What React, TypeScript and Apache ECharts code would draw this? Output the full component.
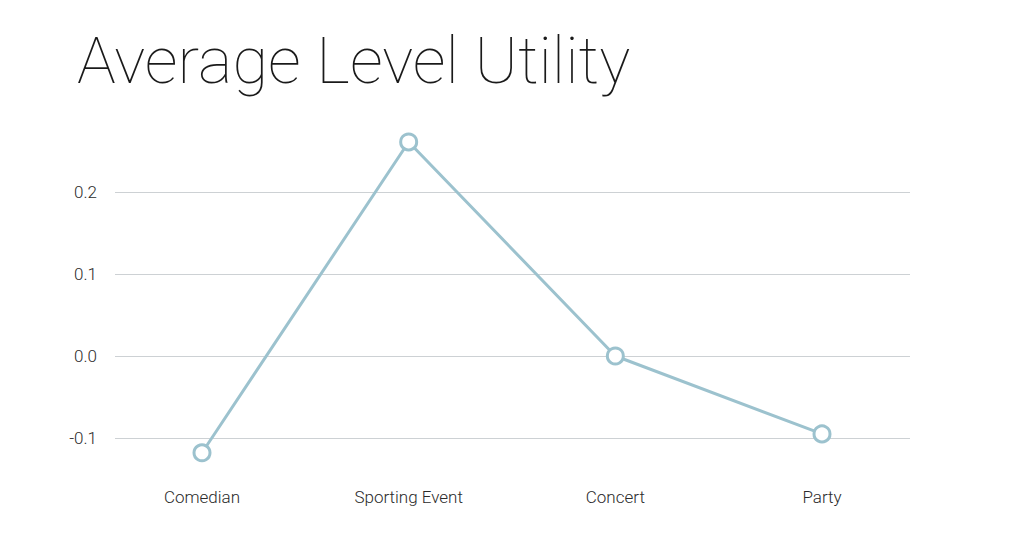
import React, { useEffect, useRef } from "react";
import * as echarts from "echarts";

const categories = ["Comedian", "Sporting Event", "Concert", "Party"];
const utilityValues = [-0.118, 0.261, 0.0, -0.095];
const yTickLabels = [-0.1, 0.0, 0.1, 0.2];
const titleText = "Average Level Utility";

const LINE_COLOR = "#9cc2ce";
const GRID_COLOR = "#cdd1d4";
const Y_MIN = -0.15;
const Y_MAX = 0.3;
const Y_STEP = 0.05;

export default function App() {
  const ref = useRef<HTMLDivElement>(null);
  useEffect(() => {
    if (!ref.current) return;
    const chart = echarts.init(ref.current, null, { renderer: "svg" });
    const nTicks = Math.round((Y_MAX - Y_MIN) / Y_STEP) + 1;
    const tickVals: number[] = [];
    for (let i = 0; i < nTicks; i++) tickVals.push(Math.round((Y_MIN + i * Y_STEP) * 100) / 100);
    const isShown = (v: number) => yTickLabels.some((t) => Math.abs(t - v) < 1e-6);
    const splitColors = tickVals.map((v) => (isShown(v) ? GRID_COLOR : "rgba(0,0,0,0)"));

    chart.setOption({
      animation: false,
      backgroundColor: "#ffffff",
      title: {
        text: titleText,
        left: 72,
        top: 23,
        textStyle: {
          fontFamily: "Roboto",
          fontWeight: 100,
          fontSize: 65,
          color: "#1a1a1a",
        },
      },
      grid: [
        { left: 115, right: 114, top: 110, bottom: 75 },
        { left: 202, right: 202, top: 110, bottom: 75 },
      ],
      xAxis: [
        { type: "value", gridIndex: 0, show: false, min: 0, max: 1 },
        {
          type: "category",
          gridIndex: 1,
          data: categories,
          boundaryGap: false,
          axisLine: { show: false },
          axisTick: { show: false },
          splitLine: { show: false },
          axisLabel: {
            margin: 9,
            fontFamily: "Roboto",
            fontWeight: 300,
            fontSize: 17,
            color: "#2b2b2b",
          },
        },
      ],
      yAxis: [
        {
          type: "value",
          gridIndex: 0,
          min: Y_MIN,
          max: Y_MAX,
          interval: Y_STEP,
          axisLine: { show: false },
          axisTick: { show: false },
          splitLine: { show: true, lineStyle: { color: splitColors, width: 1 } },
          axisLabel: {
            margin: 18,
            fontFamily: "Roboto",
            fontWeight: 300,
            fontSize: 17,
            color: "#2b2b2b",
            formatter: (v: number) => {
              if (!isShown(v)) return "";
              const r = Math.round(v * 10) / 10;
              return (r === 0 ? 0 : r).toFixed(1);
            },
          },
        },
        {
          type: "value",
          gridIndex: 1,
          min: Y_MIN,
          max: Y_MAX,
          show: false,
          splitLine: { show: false },
        },
      ],
      series: [
        {
          type: "line",
          xAxisIndex: 1,
          yAxisIndex: 1,
          data: utilityValues,
          clip: false,
          symbol: "circle",
          symbolSize: 16,
          showAllSymbol: true,
          lineStyle: { color: LINE_COLOR, width: 3 },
          itemStyle: { color: "#ffffff", borderColor: LINE_COLOR, borderWidth: 3 },
          emphasis: { disabled: true },
          z: 5,
        },
      ],
    });
    return () => chart.dispose();
  }, []);
  return (
    <div
      ref={ref}
      style={{ position: "absolute", left: 0, top: 0, width: 1024, height: 554 }}
    />
  );
}
